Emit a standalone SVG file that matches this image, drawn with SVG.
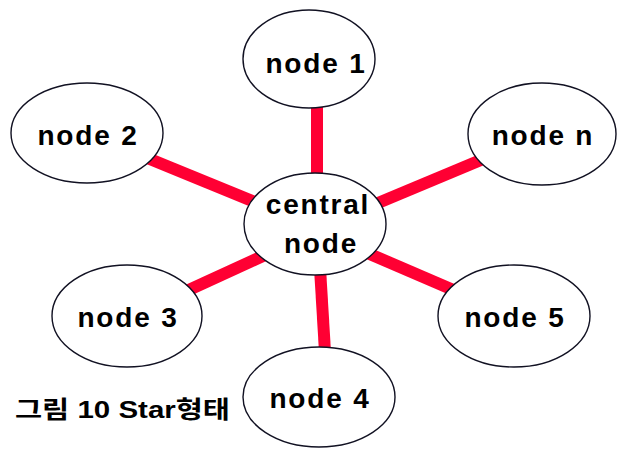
<svg xmlns="http://www.w3.org/2000/svg" width="620" height="450" viewBox="0 0 620 450">
  <style>
    .link { stroke: #ff0033; stroke-width: 12; stroke-linecap: butt; fill: none; }
    .node ellipse { fill: #ffffff; stroke: #111122; stroke-width: 1.4; }
    .node text, .caption { font-family: "Liberation Sans", Arial, sans-serif; font-weight: bold; fill: #000000; }
    .node text { font-size: 28px; letter-spacing: 1.8px; text-anchor: middle; }
    .caption { font-family: "Liberation Sans", "Noto Sans CJK KR", sans-serif; font-size: 24px; }
  </style>
  <rect width="620" height="450" fill="#ffffff"/>

  <!-- spokes from the hub to each outer node -->
  <g id="connectors">
    <line class="link" x1="317" y1="100" x2="317" y2="180"/>
    <line class="link" x1="140" y1="155" x2="262" y2="205"/>
    <line class="link" x1="378" y1="203" x2="488" y2="157"/>
    <line class="link" x1="180" y1="294" x2="265" y2="255"/>
    <line class="link" x1="365" y1="252" x2="458" y2="292"/>
    <line class="link" x1="320" y1="268" x2="325" y2="352"/>
  </g>

  <g id="central" class="node">
    <ellipse cx="315" cy="224" rx="71" ry="51"/>
    <text x="318" y="214">central</text>
    <text x="321" y="253">node</text>
  </g>
  <g id="node1" class="node">
    <ellipse cx="309" cy="59" rx="66" ry="49"/>
    <text x="316" y="73">node 1</text>
  </g>
  <g id="node2" class="node">
    <ellipse cx="87" cy="133" rx="76" ry="50"/>
    <text x="88" y="145">node 2</text>
  </g>
  <g id="noden" class="node">
    <ellipse cx="542" cy="134" rx="74" ry="51"/>
    <text x="543" y="145">node n</text>
  </g>
  <g id="node3" class="node">
    <ellipse cx="127" cy="316" rx="75" ry="51"/>
    <text x="128" y="327">node 3</text>
  </g>
  <g id="node5" class="node">
    <ellipse cx="514" cy="316" rx="76" ry="51"/>
    <text x="515" y="327">node 5</text>
  </g>
  <g id="node4" class="node">
    <ellipse cx="319" cy="397" rx="76" ry="50"/>
    <text x="320" y="408">node 4</text>
  </g>

  <text class="caption" x="15" y="418" textLength="215" lengthAdjust="spacingAndGlyphs">그림 10 Star형태</text>
</svg>
